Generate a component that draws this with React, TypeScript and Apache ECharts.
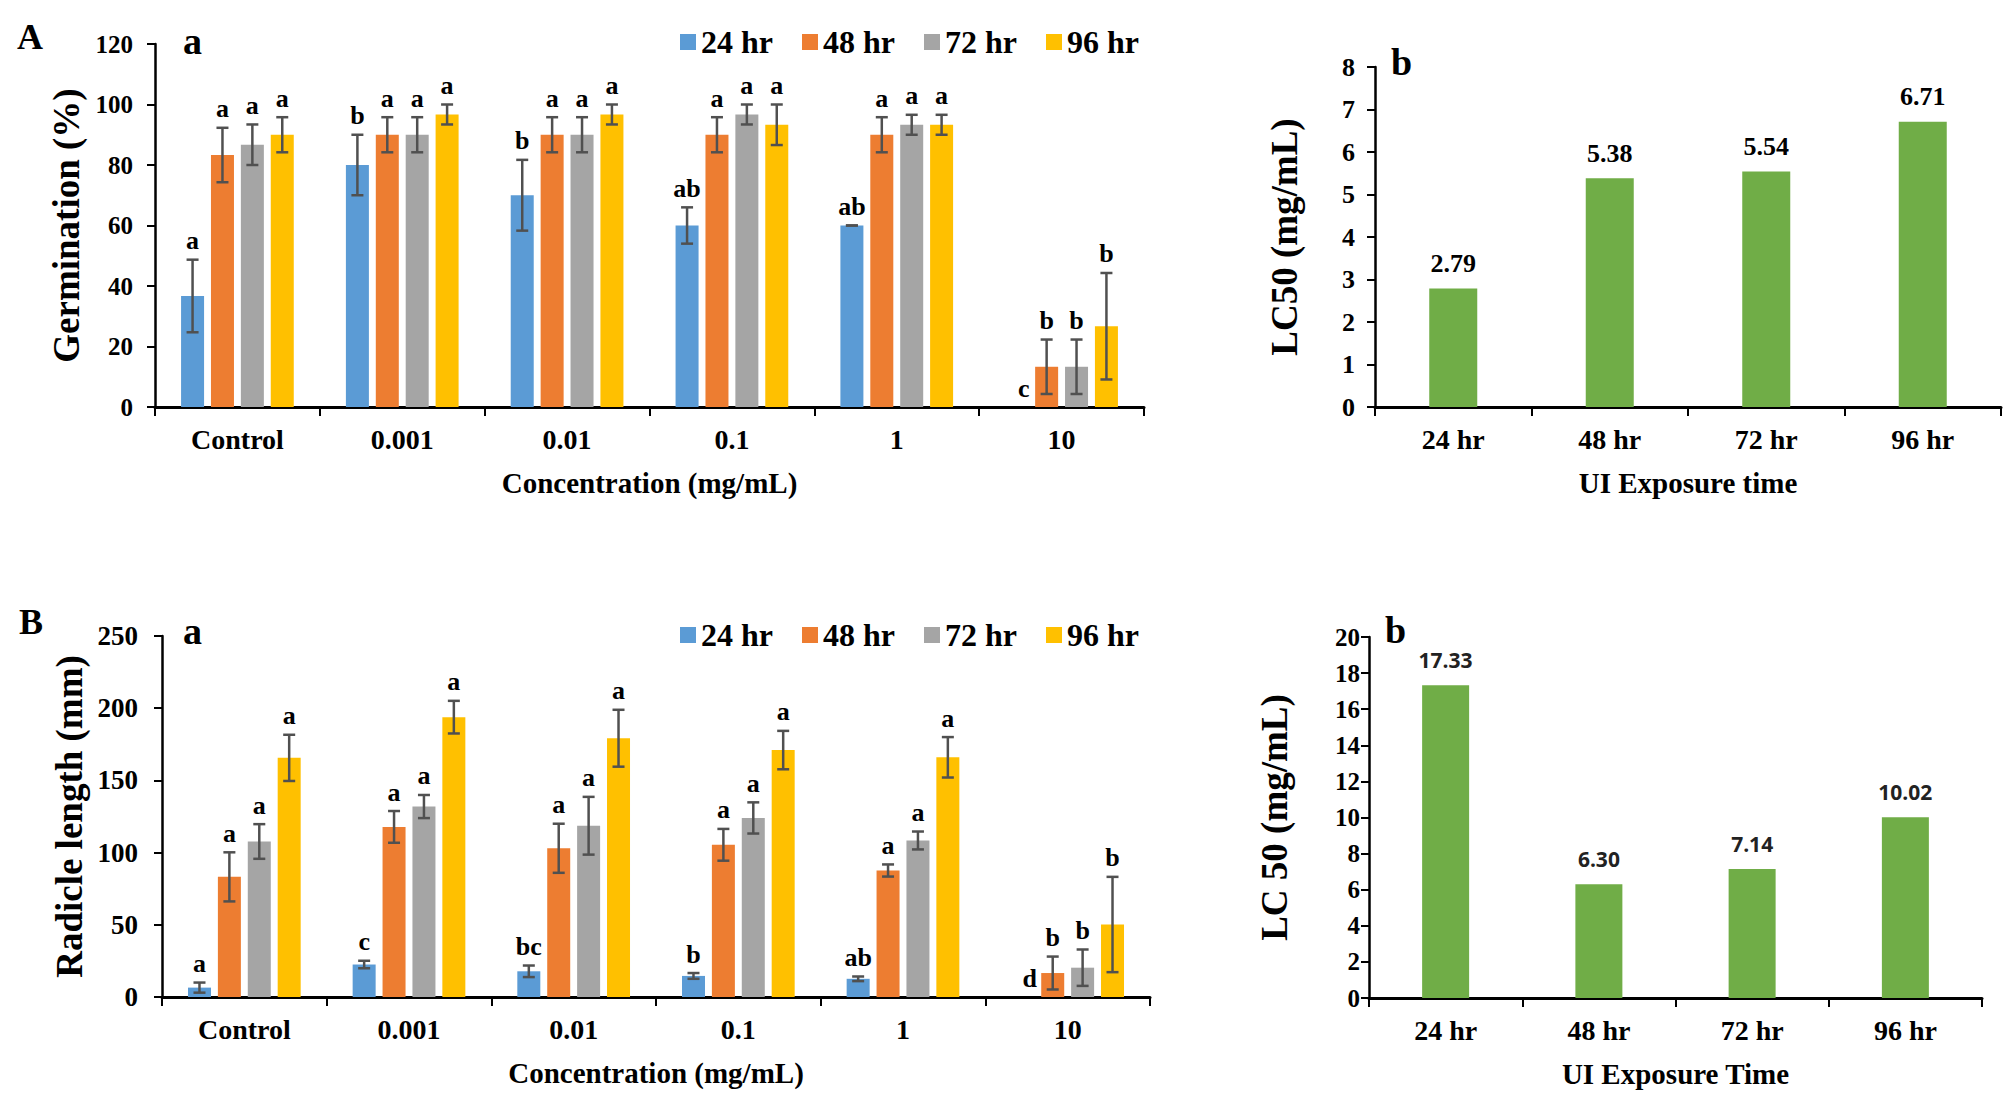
import React, { useEffect, useRef } from "react";
import * as echarts from "echarts";

// ---------- data ----------
const concentrations = ["Control", "0.001", "0.01", "0.1", "1", "10"];
const timeNames = ["24 hr", "48 hr", "72 hr", "96 hr"];
const timeColors = ["#5B9BD5", "#ED7D31", "#A5A5A5", "#FFC000"];

// Panel A-a: Germination (%)
const germ24 = [36.7, 80, 70, 60, 60, 0];
const germ48 = [83.3, 90, 90, 90, 90, 13.3];
const germ72 = [86.7, 90, 90, 96.7, 93.3, 13.3];
const germ96 = [90, 96.7, 96.7, 93.3, 93.3, 26.7];
const germ24Err = [12, 10, 11.7, 6, 0, 0];
const germ48Err = [9, 5.8, 5.8, 5.8, 5.8, 9];
const germ72Err = [6.7, 5.8, 5.8, 3.3, 3.3, 9];
const germ96Err = [5.8, 3.3, 3.3, 6.7, 3.3, 17.6];
const germ24Letters = ["a", "b", "b", "ab", "ab", "c"];
const germ48Letters = ["a", "a", "a", "a", "a", "b"];
const germ72Letters = ["a", "a", "a", "a", "a", "b"];
const germ96Letters = ["a", "a", "a", "a", "a", "b"];

// Panel B-a: Radicle length (mm)
const rad24 = [6.5, 22.5, 17.8, 14.6, 12.6, 0];
const rad48 = [83.2, 117.8, 103, 105.4, 87.6, 16.6];
const rad72 = [107.7, 131.9, 118.6, 124, 108.4, 20.3];
const rad96 = [165.6, 193.8, 179.2, 171, 166, 50.2];
const rad24Err = [3.5, 2.6, 4, 2, 1.6, 0];
const rad48Err = [17, 11, 17, 11, 4.2, 11.4];
const rad72Err = [12, 8, 20, 10.8, 6.2, 12.6];
const rad96Err = [16, 11.3, 19.7, 13.3, 14, 33];
const rad24Letters = ["a", "c", "bc", "b", "ab", "d"];
const rad48Letters = ["a", "a", "a", "a", "a", "b"];
const rad72Letters = ["a", "a", "a", "a", "a", "b"];
const rad96Letters = ["a", "a", "a", "a", "a", "b"];

// Panels b: LC50
const exposureTimes = ["24 hr", "48 hr", "72 hr", "96 hr"];
const lc50Germ = [2.79, 5.38, 5.54, 6.71];
const lc50Rad = [17.33, 6.3, 7.14, 10.02];

// ---------- styling ----------
const SERIF = "Liberation Serif";
const SANS = "Open Sans";
const GREEN = "#70AD47";
const ERR_COLOR = "#505050";
const BAR_W = 23;
const BAR_GAP = 0.3;

function xAxisDef(gridIndex: number, data: string[], name: string, fs: number) {
  return {
    type: "category",
    gridIndex,
    data,
    axisLine: { lineStyle: { color: "#000", width: 3 } },
    axisTick: { show: true, length: 9, lineStyle: { color: "#000", width: 2 } },
    axisLabel: { fontSize: fs, fontWeight: "bold", fontFamily: SERIF, color: "#000", margin: 18 },
    name,
    nameLocation: "middle",
    nameGap: 61,
    nameTextStyle: { fontSize: 29, fontWeight: "bold", fontFamily: SERIF, color: "#000" },
  };
}

function yAxisDef(
  gridIndex: number,
  max: number,
  interval: number,
  name: string,
  fs: number,
  margin: number,
  nameGap: number
) {
  return {
    type: "value",
    gridIndex,
    min: 0,
    max,
    interval,
    axisLine: { show: true, lineStyle: { color: "#000", width: 2.5 } },
    axisTick: { show: true, length: 8, lineStyle: { color: "#000", width: 2 } },
    splitLine: { show: false },
    axisLabel: { fontSize: fs, fontWeight: "bold", fontFamily: SERIF, color: "#000", margin },
    name,
    nameLocation: "middle",
    nameGap,
    nameTextStyle: { fontSize: 37, fontWeight: "bold", fontFamily: SERIF, color: "#000" },
  };
}

function groupedSeries(
  gridIndex: number,
  values: number[][],
  errs: number[][],
  letters: string[][]
) {
  const out: any[] = [];
  values.forEach((vals, i) => {
    out.push({
      type: "bar",
      name: timeNames[i],
      xAxisIndex: gridIndex,
      yAxisIndex: gridIndex,
      data: vals,
      barWidth: BAR_W,
      barGap: BAR_GAP * 100 + "%",
      itemStyle: { color: timeColors[i] },
    });
  });
  values.forEach((vals, i) => {
    const e = errs[i];
    const lab = letters[i];
    const offset = (i - 1.5) * (BAR_W * (1 + BAR_GAP));
    out.push({
      type: "custom",
      name: "err-" + gridIndex + "-" + i,
      xAxisIndex: gridIndex,
      yAxisIndex: gridIndex,
      silent: true,
      z: 10,
      encode: { x: 0, y: 1 },
      data: vals.map((v, k) => [k, v, e[k]]),
      renderItem: (params: any, api: any) => {
        const cat = api.value(0);
        const v = api.value(1);
        const er = api.value(2);
        const base = api.coord([cat, v]);
        const x = base[0] + offset;
        const yTop = api.coord([cat, v + er])[1];
        const yBot = api.coord([cat, Math.max(0, v - er)])[1];
        const children: any[] = [];
        const ls = { stroke: ERR_COLOR, lineWidth: 2.5 };
        if (v > 0) {
          children.push({ type: "line", shape: { x1: x, y1: yTop, x2: x, y2: yBot }, style: ls });
          children.push({ type: "line", shape: { x1: x - 6, y1: yTop, x2: x + 6, y2: yTop }, style: ls });
          children.push({ type: "line", shape: { x1: x - 6, y1: yBot, x2: x + 6, y2: yBot }, style: ls });
        }
        children.push({
          type: "text",
          x: v > 0 ? x : x + 7,
          y: yTop - 6,
          style: {
            text: lab[params.dataIndex],
            fontSize: 26,
            fontWeight: "bold",
            fontFamily: SERIF,
            fill: "#000",
            align: "center",
            verticalAlign: "bottom",
          },
        });
        return { type: "group", children };
      },
    });
  });
  return out;
}

function panelText(text: string, x: number, y: number, fs: number) {
  return {
    type: "text",
    x,
    y,
    style: {
      text,
      fontSize: fs,
      fontWeight: "bold",
      fontFamily: SERIF,
      fill: "#000",
      align: "left",
      verticalAlign: "middle",
    },
  };
}

function buildOption() {
  const legendCommon = {
    data: timeNames,
    left: 680,
    orient: "horizontal",
    icon: "rect",
    itemWidth: 16,
    itemHeight: 16,
    itemGap: 29,
    padding: 0,
    textStyle: { fontSize: 32, fontWeight: "bold", fontFamily: SERIF, color: "#000" },
  };
  return {
    animation: false,
    backgroundColor: "#fff",
    legend: [
      { ...legendCommon, top: 26 },
      { ...legendCommon, top: 619 },
    ],
    grid: [
      { left: 155, top: 44, width: 989, height: 363 },
      { left: 1375, top: 67, width: 626, height: 340 },
      { left: 162, top: 636, width: 988, height: 361 },
      { left: 1369, top: 637, width: 613, height: 361 },
    ],
    xAxis: [
      xAxisDef(0, concentrations, "Concentration (mg/mL)", 28),
      xAxisDef(1, exposureTimes, "UI Exposure time", 28),
      xAxisDef(2, concentrations, "Concentration (mg/mL)", 28),
      xAxisDef(3, exposureTimes, "UI Exposure Time", 28),
    ],
    yAxis: [
      yAxisDef(0, 120, 20, "Germination (%)", 25, 22, 70),
      yAxisDef(1, 8, 1, "LC50 (mg/mL)", 26, 20, 72),
      yAxisDef(2, 250, 50, "Radicle length (mm)", 27, 24, 74),
      yAxisDef(3, 20, 2, "LC 50 (mg/mL)", 25, 9, 76),
    ],
    graphic: [
      panelText("A", 17, 37, 36),
      panelText("B", 19, 622, 36),
      panelText("a", 183, 41, 38),
      panelText("a", 183, 631, 38),
      panelText("b", 1391, 62, 38),
      panelText("b", 1385, 630, 38),
    ],
    series: [
      ...groupedSeries(
        0,
        [germ24, germ48, germ72, germ96],
        [germ24Err, germ48Err, germ72Err, germ96Err],
        [germ24Letters, germ48Letters, germ72Letters, germ96Letters]
      ),
      ...groupedSeries(
        2,
        [rad24, rad48, rad72, rad96],
        [rad24Err, rad48Err, rad72Err, rad96Err],
        [rad24Letters, rad48Letters, rad72Letters, rad96Letters]
      ),
      {
        type: "bar",
        name: "LC50 germination",
        xAxisIndex: 1,
        yAxisIndex: 1,
        data: lc50Germ,
        barWidth: 48,
        itemStyle: { color: GREEN },
        label: {
          show: true,
          position: "top",
          distance: 12,
          formatter: (p: any) => Number(p.value).toFixed(2),
          fontSize: 26,
          fontWeight: "bold",
          fontFamily: SERIF,
          color: "#000",
        },
      },
      {
        type: "bar",
        name: "LC50 radicle",
        xAxisIndex: 3,
        yAxisIndex: 3,
        data: lc50Rad,
        barWidth: 47,
        itemStyle: { color: GREEN },
        label: {
          show: true,
          position: "top",
          distance: 15,
          formatter: (p: any) => Number(p.value).toFixed(2),
          fontSize: 21,
          fontWeight: "bold",
          fontFamily: SANS,
          color: "#222",
        },
      },
    ],
  };
}

export default function App() {
  const ref = useRef<HTMLDivElement>(null);
  useEffect(() => {
    if (!ref.current) return;
    const chart = echarts.init(ref.current, null, { renderer: "svg" });
    chart.setOption(buildOption() as any);
    return () => chart.dispose();
  }, []);
  return (
    <div
      ref={ref}
      style={{ position: "fixed", left: 0, top: 0, width: 2008, height: 1106, background: "#fff" }}
    />
  );
}
